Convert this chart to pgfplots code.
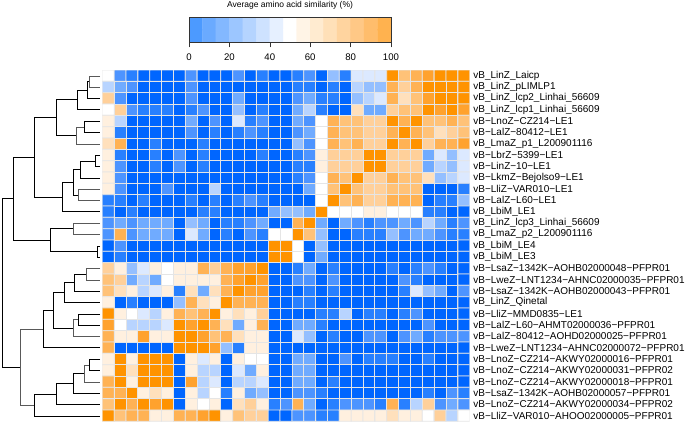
\documentclass[border=0pt]{standalone}
\usepackage{fontspec}
\setmainfont{Liberation Sans}
\usepackage{pgfplots}
\pgfplotsset{compat=1.18}
\pgfplotsset{
  colormap={cells}{rgb255=(0,102,255) rgb255=(40,128,255) rgb255=(77,148,255) rgb255=(112,171,255) rgb255=(148,191,255) rgb255=(184,212,255) rgb255=(220,233,255) rgb255=(255,255,255) rgb255=(255,240,223) rgb255=(255,224,188) rgb255=(255,208,154) rgb255=(255,194,120) rgb255=(255,178,84) rgb255=(255,162,46) rgb255=(255,147,0)},
  colormap={bar}{rgb255=(76,154,255) rgb255=(106,170,255) rgb255=(131,184,255) rgb255=(156,198,255) rgb255=(181,212,255) rgb255=(206,226,255) rgb255=(230,240,255) rgb255=(255,255,255) rgb255=(255,244,230) rgb255=(255,235,208) rgb255=(255,224,184) rgb255=(255,212,159) rgb255=(255,200,134) rgb255=(255,189,108) rgb255=(255,178,79)},
}
\begin{document}
\begin{tikzpicture}
\path[use as bounding box] (0,0) rectangle (685pt,-424pt);
% dendrogram, in pixel coordinates of the page
\begin{axis}[at={(0pt,0pt)},anchor=north west,scale only axis,width=685pt,height=424pt,
  xmin=0,xmax=685,ymin=0,ymax=424,y dir=reverse,hide axis,clip=false,
  cycle list={{black!65,solid,line width=0.85pt,mark=none}}]
\addplot coordinates {(100,75.7)(89.3,75.7)(89.3,87)(100,87)};
\addplot coordinates {(89.3,81.3)(87.3,81.3)(87.3,98.3)(100,98.3)};
\addplot coordinates {(87.3,90)(77.3,90)(77.3,109.7)(100,109.7)};
\addplot coordinates {(100,121)(84,121)(84,132.3)(100,132.3)};
\addplot coordinates {(84,126.7)(76,126.7)(76,143.7)(100,143.7)};
\addplot coordinates {(77.3,99.5)(56.3,99.5)(56.3,135.2)(76,135.2)};
\addplot coordinates {(100,155)(95.7,155)(95.7,166.3)(100,166.3)};
\addplot coordinates {(95.7,160.7)(80.3,160.7)(80.3,177.7)(100,177.7)};
\addplot coordinates {(100,189)(78.3,189)(78.3,200.3)(100,200.3)};
\addplot coordinates {(80.3,169.2)(73,169.2)(73,194.7)(78.3,194.7)};
\addplot coordinates {(73,182)(62.3,182)(62.3,211.7)(100,211.7)};
\addplot coordinates {(56.3,117.3)(34.3,117.3)(34.3,196.8)(62.3,196.8)};
\addplot coordinates {(100,223)(72.7,223)(72.7,234.3)(100,234.3)};
\addplot coordinates {(100,245.7)(97,245.7)(97,257)(100,257)};
\addplot coordinates {(72.7,228.7)(50.3,228.7)(50.3,251.3)(97,251.3)};
\addplot coordinates {(34.3,157)(13.3,157)(13.3,240)(50.3,240)};
\addplot coordinates {(100,268.3)(85.7,268.3)(85.7,279.7)(100,279.7)};
\addplot coordinates {(85.7,274)(73.7,274)(73.7,291)(100,291)};
\addplot coordinates {(73.7,282.5)(64.3,282.5)(64.3,302.3)(100,302.3)};
\addplot coordinates {(100,313.7)(77.7,313.7)(77.7,325)(100,325)};
\addplot coordinates {(77.7,319.3)(72.7,319.3)(72.7,336.3)(100,336.3)};
\addplot coordinates {(64.3,292.4)(53.3,292.4)(53.3,327.8)(72.7,327.8)};
\addplot coordinates {(53.3,310)(43,310)(43,347.7)(100,347.7)};
\addplot coordinates {(100,359)(89,359)(89,370.3)(100,370.3)};
\addplot coordinates {(89,364.7)(84.3,364.7)(84.3,381.7)(100,381.7)};
\addplot coordinates {(84.3,373.2)(73,373.2)(73,393)(100,393)};
\addplot coordinates {(73,383)(56.3,383)(56.3,404.3)(100,404.3)};
\addplot coordinates {(56.3,393.7)(34.3,393.7)(34.3,415.7)(100,415.7)};
\addplot coordinates {(43,329)(19.7,329)(19.7,404.7)(34.3,404.7)};
\addplot coordinates {(13.3,198.5)(1.7,198.5)(1.7,367)(19.7,367)};
\end{axis}
% heat map
\begin{axis}[at={(102.3pt,-70pt)},anchor=north west,scale only axis,width=367.4pt,height=351.3pt,
  xmin=-0.5,xmax=30.5,ymin=-0.5,ymax=30.5,y dir=reverse,
  axis line style={draw=none},xtick=\empty,
  ytick={0,...,30},ytick pos=right,yticklabel pos=right,major tick length=0pt,
  yticklabel style={font=\fontsize{10}{11}\selectfont,inner xsep=0pt,xshift=3.5pt},
  yticklabels={vB\_LinZ\_Laicp,vB\_LinZ\_pLIMLP1,vB\_LinZ\_lcp2\_Linhai\_56609,vB\_LinZ\_lcp1\_Linhai\_56609,vB−LnoZ−CZ214−LE1,vB−LalZ−80412−LE1,vB\_LmaZ\_p1\_L200901116,vB−LbrZ−5399−LE1,vB−LinZ−10−LE1,vB−LkmZ−Bejolso9−LE1,vB−LliZ−VAR010−LE1,vB−LalZ−L60−LE1,vB\_LbiM\_LE1,vB\_LinZ\_lcp3\_Linhai\_56609,vB\_LmaZ\_p2\_L200901116,vB\_LbiM\_LE4,vB\_LbiM\_LE3,vB−LsaZ−1342K−AOHB02000048−PFPR01,vB−LweZ−LNT1234−AHNC02000035−PFPR01,vB−LsaZ−1342K−AOHB02000043−PFPR01,vB\_LinZ\_Qinetal,vB−LliZ−MMD0835−LE1,vB−LalZ−L60−AHMT02000036−PFPR01,vB−LalZ−80412−AOHD02000025−PFPR01,vB−LweZ−LNT1234−AHNC02000072−PFPR01,vB−LnoZ−CZ214−AKWY02000016−PFPR01,vB−LnoZ−CZ214−AKWY02000031−PFPR02,vB−LnoZ−CZ214−AKWY02000018−PFPR01,vB−LsaZ−1342K−AOHB02000057−PFPR01,vB−LnoZ−CZ214−AKWY02000034−PFPR02,vB−LliZ−VAR010−AHOO02000005−PFPR01},
  colormap name=cells,colormap access=piecewise constant,point meta min=0,point meta max=100]
\addplot[matrix plot*,shader=faceted,faceted color=white!90!black,line width=0.8pt,mesh/cols=31,point meta=explicit]
 table[row sep=crcr,header=false,x expr={int(\coordindex-31*floor((\coordindex+0.5)/31))},y expr={int(floor((\coordindex+0.5)/31))},meta index=0]{
50\\17\\10\\3\\3\\3\\3\\17\\3\\3\\3\\17\\3\\10\\3\\3\\10\\17\\3\\30\\10\\43\\43\\43\\97\\77\\83\\90\\97\\97\\97\\
37\\23\\17\\3\\3\\3\\3\\17\\3\\3\\3\\3\\3\\3\\3\\3\\10\\10\\3\\10\\3\\37\\30\\30\\83\\70\\83\\97\\97\\97\\97\\
70\\17\\3\\3\\3\\3\\3\\17\\3\\3\\3\\23\\3\\3\\3\\3\\17\\23\\10\\10\\3\\30\\37\\43\\83\\63\\77\\90\\97\\97\\97\\
50\\70\\17\\10\\10\\10\\3\\10\\17\\3\\3\\30\\3\\10\\3\\3\\23\\37\\10\\3\\3\\63\\23\\23\\70\\77\\77\\97\\90\\97\\90\\
57\\37\\3\\3\\3\\3\\3\\23\\3\\17\\3\\43\\10\\17\\3\\3\\23\\17\\50\\83\\77\\77\\70\\70\\97\\83\\97\\77\\77\\83\\77\\
57\\10\\3\\3\\3\\3\\3\\17\\3\\10\\3\\10\\17\\10\\3\\3\\17\\23\\50\\83\\77\\77\\70\\70\\83\\97\\83\\77\\63\\70\\77\\
63\\83\\3\\3\\10\\3\\3\\3\\10\\3\\3\\3\\3\\3\\3\\3\\30\\17\\50\\83\\77\\83\\70\\70\\97\\83\\97\\70\\83\\83\\90\\
57\\10\\3\\3\\10\\3\\17\\3\\10\\3\\3\\3\\3\\10\\3\\3\\10\\17\\57\\70\\70\\70\\97\\97\\70\\70\\70\\23\\43\\30\\43\\
57\\17\\3\\3\\10\\3\\17\\3\\10\\3\\3\\3\\3\\3\\3\\3\\10\\10\\57\\70\\70\\70\\97\\97\\70\\70\\70\\23\\37\\30\\43\\
57\\17\\3\\3\\3\\3\\3\\3\\3\\3\\3\\3\\3\\3\\3\\3\\10\\17\\50\\83\\77\\97\\70\\70\\83\\77\\77\\63\\30\\37\\43\\
57\\17\\3\\3\\3\\17\\3\\3\\3\\37\\3\\3\\3\\3\\3\\3\\3\\23\\50\\77\\97\\77\\70\\70\\77\\77\\77\\3\\3\\3\\10\\
10\\10\\3\\10\\3\\3\\3\\10\\3\\10\\3\\10\\17\\10\\3\\3\\3\\3\\50\\97\\77\\83\\70\\70\\83\\83\\83\\3\\10\\10\\30\\
10\\3\\10\\3\\3\\3\\3\\3\\10\\10\\3\\3\\3\\3\\23\\30\\30\\23\\97\\50\\50\\50\\57\\57\\50\\50\\50\\10\\10\\3\\3\\
17\\23\\17\\23\\23\\23\\3\\30\\23\\3\\10\\10\\17\\23\\3\\3\\83\\97\\23\\3\\23\\17\\10\\17\\17\\23\\17\\37\\23\\10\\17\\
17\\83\\17\\23\\23\\23\\3\\43\\23\\3\\10\\3\\17\\10\\50\\50\\97\\77\\30\\3\\3\\10\\10\\10\\30\\17\\23\\23\\17\\10\\10\\
3\\17\\3\\3\\3\\3\\3\\3\\3\\3\\3\\3\\3\\3\\97\\97\\50\\3\\30\\3\\3\\3\\3\\3\\3\\3\\3\\3\\3\\3\\3\\
3\\10\\3\\3\\3\\3\\3\\3\\3\\3\\3\\3\\3\\3\\97\\97\\50\\3\\23\\3\\3\\3\\3\\3\\3\\3\\3\\3\\3\\3\\3\\
70\\57\\30\\43\\57\\50\\57\\57\\83\\70\\83\\90\\90\\97\\3\\3\\10\\23\\3\\10\\3\\3\\3\\3\\10\\3\\10\\17\\10\\3\\3\\
77\\70\\23\\37\\23\\50\\57\\57\\57\\57\\83\\90\\97\\90\\3\\3\\17\\17\\3\\17\\3\\3\\3\\3\\3\\17\\10\\3\\3\\3\\3\\
77\\63\\57\\37\\43\\57\\10\\63\\23\\63\\83\\97\\90\\90\\3\\3\\3\\10\\3\\10\\3\\3\\3\\3\\3\\10\\43\\30\\23\\3\\17\\
57\\3\\10\\3\\3\\3\\30\\83\\63\\57\\97\\83\\83\\83\\3\\3\\10\\10\\3\\3\\3\\3\\3\\3\\3\\3\\3\\3\\3\\3\\3\\
97\\57\\50\\43\\37\\57\\83\\77\\83\\97\\57\\63\\57\\70\\3\\3\\3\\3\\10\\10\\37\\3\\10\\10\\3\\10\\17\\3\\3\\3\\3\\
90\\50\\37\\37\\37\\43\\97\\90\\97\\83\\63\\23\\57\\83\\3\\3\\23\\23\\10\\3\\3\\3\\3\\3\\3\\3\\3\\17\\3\\3\\3\\
83\\57\\57\\90\\57\\57\\97\\97\\90\\77\\83\\63\\57\\57\\3\\3\\43\\30\\3\\10\\3\\3\\17\\17\\3\\17\\23\\10\\17\\17\\17\\
83\\3\\3\\3\\3\\3\\97\\97\\97\\90\\30\\10\\57\\57\\3\\3\\3\\3\\3\\3\\3\\3\\3\\3\\3\\3\\3\\3\\3\\3\\3\\
57\\97\\57\\97\\97\\97\\3\\57\\43\\57\\3\\57\\50\\50\\3\\3\\23\\23\\3\\3\\17\\3\\10\\10\\10\\3\\3\\10\\3\\3\\3\\
57\\97\\63\\97\\97\\97\\3\\57\\37\\37\\3\\43\\23\\57\\3\\3\\23\\23\\3\\3\\3\\3\\3\\3\\3\\3\\3\\3\\3\\3\\3\\
83\\97\\57\\97\\97\\97\\3\\90\\37\\43\\3\\37\\37\\43\\3\\3\\23\\23\\3\\10\\3\\3\\3\\3\\3\\3\\3\\3\\3\\3\\3\\
83\\83\\97\\57\\63\\57\\3\\57\\37\\50\\10\\57\\23\\30\\3\\3\\17\\17\\10\\3\\3\\3\\3\\3\\3\\3\\3\\10\\3\\17\\10\\
77\\97\\83\\97\\90\\97\\3\\57\\50\\57\\3\\63\\70\\57\\10\\17\\83\\23\\3\\10\\17\\17\\17\\10\\83\\10\\37\\70\\17\\23\\17\\
97\\77\\83\\83\\57\\57\\83\\83\\90\\97\\57\\77\\70\\70\\3\\3\\17\\17\\10\\10\\57\\57\\57\\57\\63\\57\\57\\50\\70\\37\\50\\
};
\end{axis}
% colour key
\begin{axis}[at={(189pt,-17.3pt)},anchor=north west,scale only axis,width=202pt,height=25pt,
  xmin=0,xmax=100,ymin=-0.5,ymax=1.5,ytick=\empty,axis on top,
  xtick={0,20,40,60,80,100},xtick pos=lower,tick align=outside,major tick length=5pt,
  axis line style={black!80,line width=0.6pt},tick style={black!80,line width=0.6pt},
  /pgf/number format/assume math mode=true,
  xticklabel style={font=\fontsize{9.6}{11}\selectfont,inner ysep=0pt,yshift=-6pt},
  title={Average amino acid similarity (\%)},
  title style={font=\fontsize{8.5}{9}\selectfont,at={(0.5,1)},anchor=south,yshift=1.5pt,inner sep=0pt},
  colormap name=bar,colormap access=piecewise constant,point meta min=0,point meta max=100]
\addplot[matrix plot*,mesh/cols=15,point meta=explicit] coordinates {
(3.33,0)[3.33] (10,0)[10] (16.67,0)[16.67] (23.33,0)[23.33] (30,0)[30] (36.67,0)[36.67] (43.33,0)[43.33] (50,0)[50] (56.67,0)[56.67] (63.33,0)[63.33] (70,0)[70] (76.67,0)[76.67] (83.33,0)[83.33] (90,0)[90] (96.67,0)[96.67]
(3.33,1)[3.33] (10,1)[10] (16.67,1)[16.67] (23.33,1)[23.33] (30,1)[30] (36.67,1)[36.67] (43.33,1)[43.33] (50,1)[50] (56.67,1)[56.67] (63.33,1)[63.33] (70,1)[70] (76.67,1)[76.67] (83.33,1)[83.33] (90,1)[90] (96.67,1)[96.67]
};
\end{axis}
\end{tikzpicture}
\end{document}
